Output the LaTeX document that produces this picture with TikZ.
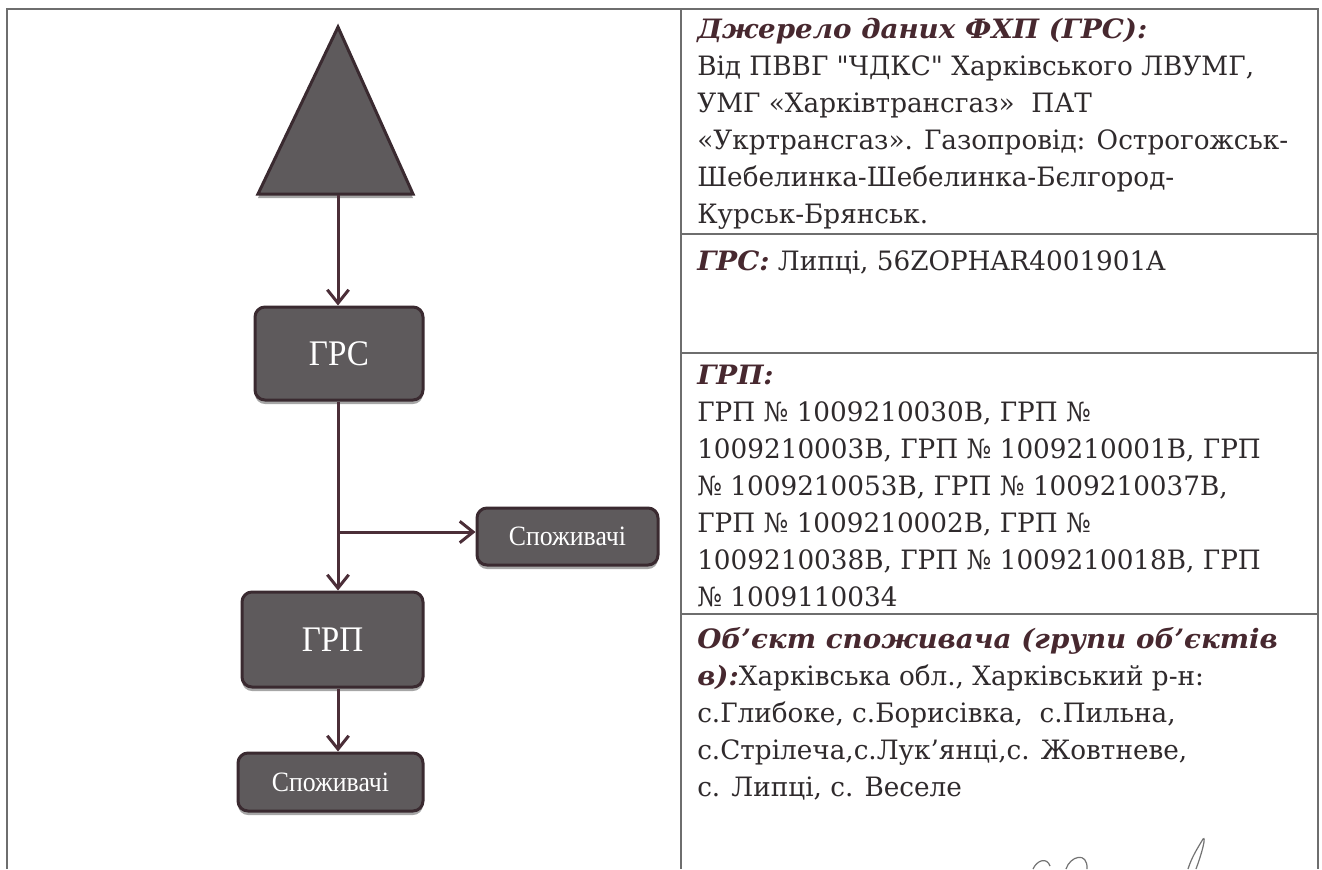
\documentclass[tikz,border=0pt]{standalone}
\usepackage{fontspec}
\setmainfont{Liberation Serif}
\newfontfamily\cellfont{DejaVu Serif}[FakeStretch=0.985,BoldItalicFeatures={FakeStretch=1.04}]
\newfontfamily\boxfont{Liberation Serif}[FakeStretch=0.92]
\usetikzlibrary{arrows.meta,shadows,calc}
\definecolor{textcol}{HTML}{2F2A2C}
\definecolor{headcol}{HTML}{47282F}
\definecolor{boxfill}{HTML}{5E5A5C}
\definecolor{boxline}{HTML}{3A2A30}
\definecolor{linkcol}{HTML}{4B2E38}
\definecolor{rulecol}{HTML}{6E6E6E}
\tikzset{
  box/.style={rounded corners=7.5pt, fill=boxfill, draw=boxline, line width=2.25pt,
    text=white, inner sep=0pt,
    drop shadow={shadow xshift=0pt, shadow yshift=-3pt, opacity=0.35, fill=black}},
  bigbox/.style={box, font=\boxfont\fontsize{27}{30}\selectfont},
  smallbox/.style={box, font=\boxfont\fontsize{21}{24}\selectfont},
  link/.style={draw=linkcol, line width=2.25pt, -{Straight Barb[length=10pt,width=16pt,line width=2.25pt]}},
  plainlink/.style={draw=linkcol, line width=2.25pt},
  rule/.style={draw=rulecol, line width=1pt},
  cell/.style={anchor=base west, inner sep=0pt, text=textcol, font=\cellfont\fontsize{20}{24}\selectfont},
  sig/.style={draw=black!55, line width=0.9pt}
}
\newcommand{\hd}[1]{{\bfseries\itshape\color{headcol}#1}}
\begin{document}
\begin{tikzpicture}[x=0.75pt,y=-0.75pt]
\useasboundingbox (0,0) rectangle (1322,869);
\fill[white] (0,0) rectangle (1322,869);
% table rules
\draw[rule] (7,869) -- (7,9) -- (1318,9) -- (1318,869);
\draw[rule] (681,9) -- (681,869);
\draw[rule] (681,234) -- (1318,234);
\draw[rule] (681,353) -- (1318,353);
\draw[rule] (681,614) -- (1318,614);
% source triangle
\path[fill=boxfill, draw=boxline, line width=2.25pt, line join=miter,
  drop shadow={shadow xshift=0pt, shadow yshift=-3pt, opacity=0.35, fill=black}]
  (338,27) -- (413,194) -- (258,194) -- cycle;
\coordinate (src) at (338,195);
% boxes
\node[bigbox, minimum width=126pt, minimum height=69.75pt] (grs) at (339,353.5) {ГРС};
\node[smallbox, minimum width=135.75pt, minimum height=42.75pt] (cons1) at (567.5,536.5) {Споживачі};
\node[bigbox, minimum width=135.75pt, minimum height=71.25pt] (grp) at (332.5,639.5) {ГРП};
\node[smallbox, minimum width=138.75pt, minimum height=43.5pt] (cons2) at (330.5,782) {Споживачі};
% connectors
\coordinate (br) at (338,532);
\draw[link] (src) -- (src |- grs.north);
\draw[plainlink] (src |- grs.south) -- (br);
\draw[link] (br) -- (br -| cons1.west);
\draw[link] (br) -- (src |- grp.north);
\draw[link] (src |- grp.south) -- (src |- cons2.north);
% right column text
\node[cell] (a1) at (697,38) {\hd{Джерело даних ФХП (ГРС):}};
\node[cell] (a2) at (697,75) {Від ПВВГ "ЧДКС" Харківського ЛВУМГ,};
\node[cell] (a3) at (697,112) {УМГ «Харківтрансгаз»\ \ ПАТ};
\node[cell] (a4) at (697,149) {«Укртрансгаз». Газопровід: Острогожськ-};
\node[cell] (a5) at (697,186) {Шебелинка-Шебелинка-Бєлгород-};
\node[cell] (a6) at (697,223) {Курськ-Брянськ.};
\node[cell] (b1) at (697,270) {\hd{ГРС:} Липці, 56ZOPHAR4001901A};
\node[cell] (c1) at (697,384) {\hd{ГРП:}};
\node[cell] (c2) at (697,421) {ГРП № 1009210030В, ГРП №};
\node[cell] (c3) at (697,458) {1009210003В, ГРП № 1009210001В, ГРП};
\node[cell] (c4) at (697,495) {№ 1009210053В, ГРП № 1009210037В,};
\node[cell] (c5) at (697,532) {ГРП № 1009210002В, ГРП №};
\node[cell] (c6) at (697,569) {1009210038В, ГРП № 1009210018В, ГРП};
\node[cell] (c7) at (697,606) {№ 1009110034};
\node[cell] (d1) at (697,648) {\hd{Об’єкт споживача (групи об’єктів}};
\node[cell] (d2) at (697,685) {\hd{в):}Харківська обл., Харківський р-н:};
\node[cell] (d3) at (697,722) {с.Глибоке, с.Борисівка,\ \ с.Пильна,};
\node[cell] (d4) at (697,759) {с.Стрілеча,с.Лук’янці,с. Жовтневе,};
\node[cell] (d5) at (697,796) {с. Липці, с. Веселе};
% signature
\draw[sig] (1033,869) .. controls (1037,860) and (1047,857) .. (1050,866);
\draw[sig] (1066,869) .. controls (1070,856) and (1088,851) .. (1087,869);
\draw[sig] (1188,869) .. controls (1192,856) and (1199,846) .. (1203,839) .. controls (1206,836) and (1203,850) .. (1196,869);
\end{tikzpicture}
\end{document}
